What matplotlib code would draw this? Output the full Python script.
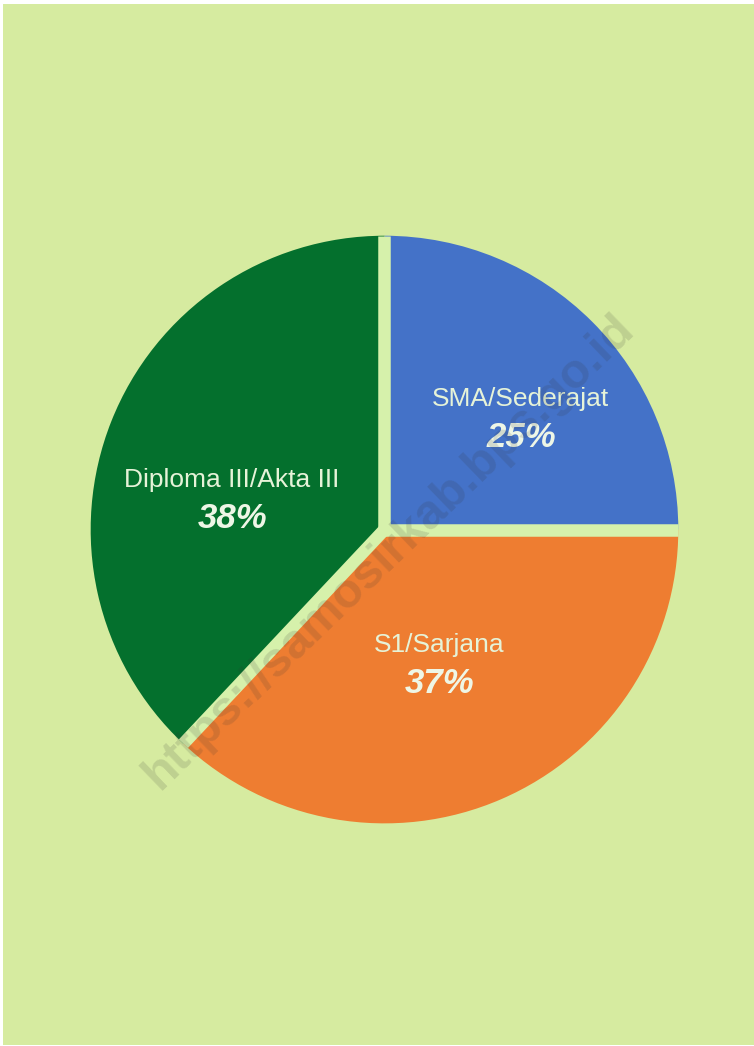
import matplotlib
matplotlib.use("Agg")
import matplotlib.pyplot as plt
import numpy as np

# data
categories = ["SMA/Sederajat", "S1/Sarjana", "Diploma III/Akta III"]
shares = [25, 37, 38]
colors = ["#4472c8", "#ee7d31", "#04702d"]

bg = "#d6eba0"
gap = "#d6f1ab"

W, H = 754, 1046
fig = plt.figure(figsize=(W / 100, H / 100), dpi=100, facecolor="white")
ax = fig.add_axes([0.004, 0, 0.996, 0.997])
ax.set_facecolor(bg)

cx, cy, r = 383, H - 528, 295
wedges, _ = ax.pie(shares, colors=colors, startangle=90, counterclock=False,
                   center=(cx, cy), radius=r,
                   wedgeprops=dict(linewidth=0))
ax.set_xlim(0, W)
ax.set_ylim(0, H)
ax.set_aspect("equal")
ax.axis("off")
ax.add_patch(plt.Rectangle((0, 0), W, H, color=bg, zorder=-5))

# separators between slices
for w in wedges:
    a = np.deg2rad(w.theta1)
    ax.plot([cx, cx + r * np.cos(a)], [cy, cy + r * np.sin(a)],
            color=gap, lw=9, solid_capstyle="butt", zorder=3)

# label positions (pixels from top)
label_pos = [(520, 397), (438, 644), (230, 478)]
for name, val, (x, y) in zip(categories, shares, label_pos):
    ax.text(x, H - y, name, ha="center", va="center", fontsize=19,
            family="Liberation Sans", color="#e6f3d8", zorder=4)
    ax.text(x, H - y - 39, f"{val}%", ha="center", va="center", fontsize=25,
            family="Liberation Sans", weight="bold", style="italic",
            color="#eef6e6", zorder=4)

# watermark
ax.text(388, H - 550, "https://samosirkab.bps.go.id", ha="center", va="center",
        rotation=44, fontsize=35, weight="bold", family="Liberation Sans",
        color="#333333", alpha=0.15, zorder=5)

fig.savefig("out.png", dpi=100, facecolor="white")
